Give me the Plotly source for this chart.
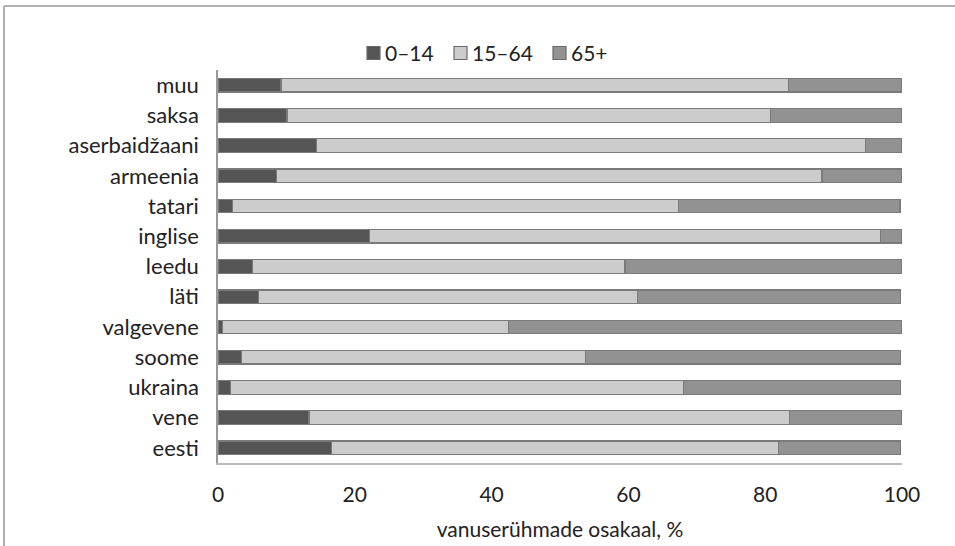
import plotly.graph_objects as go

categories = ["eesti", "vene", "ukraina", "soome", "valgevene", "läti", "leedu",
              "inglise", "tatari", "armeenia", "aserbaidžaani", "saksa", "muu"]
age_0_14 = [16.6, 13.3, 1.8, 3.4, 0.6, 5.9, 5.0, 22.2, 2.1, 8.5, 14.4, 10.1, 9.2]
age_15_64 = [65.4, 70.3, 66.2, 50.3, 41.9, 55.4, 54.5, 74.6, 65.2, 79.8, 80.3, 70.7, 74.2]
age_65p = [17.8, 16.4, 31.8, 46.1, 57.5, 38.5, 40.5, 3.2, 32.4, 11.7, 5.3, 19.2, 16.6]
series_names = ["0–14", "15–64", "65+"]
tick_vals = [0, 20, 40, 60, 80, 100]

colors = ["#555555", "#cccccc", "#929292"]
FONT = "Lato, 'Open Sans', sans-serif"
FS = 21

fig = go.Figure()
for name, vals, col in zip(series_names, [age_0_14, age_15_64, age_65p], colors):
    fig.add_trace(go.Bar(
        y=categories, x=vals, name=name, orientation="h",
        marker=dict(color=col, line=dict(color="#7a7a7a", width=1.2)),
        width=0.45, showlegend=False,
    ))

W, H = 955, 546
L, R, T, B = 218, 53, 70, 83
pw, ph = W - L - R, H - T - B

def px2x(p):
    return (p - L) / pw

def py2y(p):
    return (H - B - p) / ph

shapes = [
    dict(type="line", xref="paper", yref="paper", x0=px2x(4), x1=px2x(4),
         y0=py2y(H), y1=py2y(6), line=dict(color="#b0b0b0", width=2)),
    dict(type="line", xref="paper", yref="paper", x0=px2x(4), x1=px2x(W),
         y0=py2y(6), y1=py2y(6), line=dict(color="#b0b0b0", width=2)),
]
annotations = []
# custom legend (squares + labels)
legend_sq_x = [367, 454, 553]
legend_cy = 53
for name, col, sx in zip(series_names, colors, legend_sq_x):
    shapes.append(dict(type="rect", xref="paper", yref="paper",
                       x0=px2x(sx), x1=px2x(sx + 13),
                       y0=py2y(legend_cy + 6.5), y1=py2y(legend_cy - 6.5),
                       fillcolor=col, line=dict(color="#6a6a6a", width=1.2)))
    annotations.append(dict(xref="paper", yref="paper", x=px2x(sx + 16), y=py2y(legend_cy),
                            xanchor="left", yanchor="middle", showarrow=False,
                            text=name, font=dict(size=FS, color="#222222")))

fig.update_layout(
    width=W, height=H, barmode="stack",
    margin=dict(l=L, r=R, t=T, b=B, pad=0),
    paper_bgcolor="white", plot_bgcolor="white",
    font=dict(family=FONT, size=FS, color="#222222"),
    showlegend=False,
    xaxis=dict(range=[0, 100], tickvals=tick_vals, showgrid=False, zeroline=False,
               showline=True, linecolor="#bbbbbb", linewidth=2, ticks="",
               ticklabelstandoff=12, automargin=False,
               title=dict(text="vanuserühmade osakaal, %", standoff=17, font=dict(size=FS))),
    yaxis=dict(showgrid=False, zeroline=False, showline=True, linecolor="#999999",
               linewidth=1.5, ticks="", ticklabelstandoff=13, range=[-0.5, 12.5],
               automargin=False, tickfont=dict(size=22)),
    shapes=shapes,
    annotations=annotations,
)

fig.write_html("out.html")
